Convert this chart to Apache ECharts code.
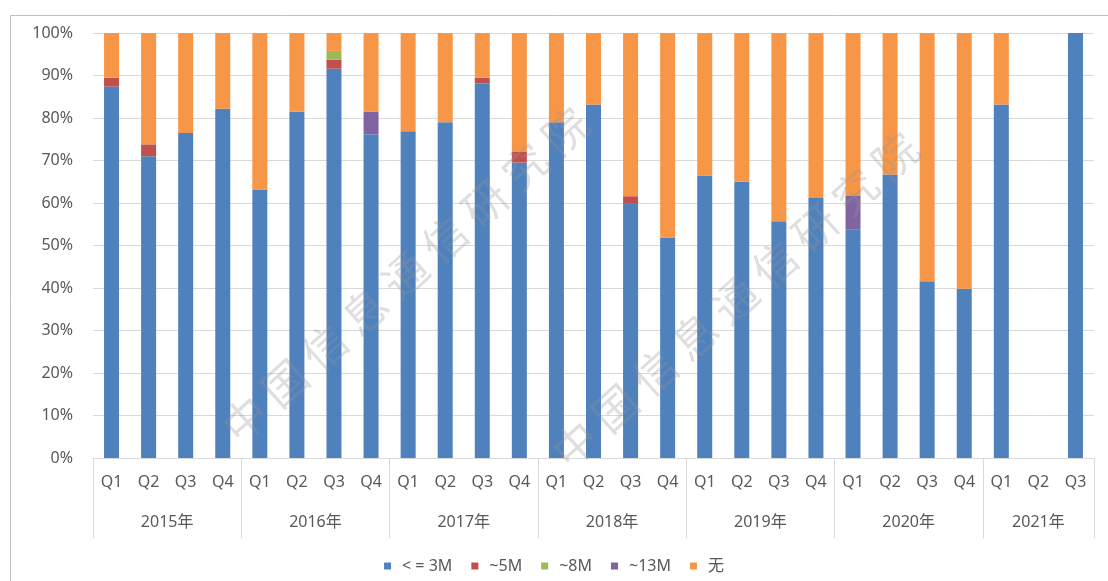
<!DOCTYPE html>
<html>
<head>
<meta charset="utf-8">
<script src="https://cdn.jsdelivr.net/npm/echarts@6/dist/echarts.min.js"></script>
<style>
  html, body { margin: 0; padding: 0; background: #fff; }
  #chart { width: 1108px; height: 581px; }
</style>
</head>
<body>
<div id="chart"></div>
<script>
// quarters along the axis, years underneath with how many quarters each has
const quarters = ['Q1','Q2','Q3','Q4','Q1','Q2','Q3','Q4','Q1','Q2','Q3','Q4','Q1','Q2','Q3','Q4',
  'Q1','Q2','Q3','Q4','Q1','Q2','Q3','Q4','Q1','Q2','Q3'];
const years = ['2015年','2016年','2017年','2018年','2019年','2020年','2021年'];
const yearQuarters = [4, 4, 4, 4, 4, 4, 3];

// share of each class (%)
const le3M = [87.4, 71.0, 76.5, 82.2, 63.2, 81.5, 91.6, 76.2, 76.9, 79.0, 88.2, 69.5, 79.0, 83.2, 59.8, 51.9,
  66.5, 65.0, 55.7, 61.2, 53.8, 66.7, 41.6, 39.8, 83.2, 0, 100];
const m5 = [2.1, 2.8, 0, 0, 0, 0, 2.1, 0, 0, 0, 1.3, 2.5, 0, 0, 1.8, 0,
  0, 0, 0, 0, 0, 0, 0, 0, 0, 0, 0];
const m8 = [0, 0, 0, 0, 0, 0, 2.1, 0, 0, 0, 0, 0, 0, 0, 0, 0,
  0, 0, 0, 0, 0, 0, 0, 0, 0, 0, 0];
const m13 = [0, 0, 0, 0, 0, 0, 0, 5.3, 0, 0, 0, 0, 0, 0, 0, 0,
  0, 0, 0, 0, 8.0, 0, 0, 0, 0, 0, 0];
const none = [10.5, 26.2, 23.5, 17.8, 36.8, 18.5, 4.2, 18.5, 23.1, 21.0, 10.5, 28.0, 21.0, 16.8, 38.4, 48.1,
  33.5, 35.0, 44.3, 38.8, 38.2, 33.3, 58.4, 60.2, 16.8, 0, 0];

const names = ['< = 3M', '~5M', '~8M', '~13M', '无'];
const colors = ['#4F81BD', '#C0504D', '#9BBB59', '#8064A2', '#F79646'];

// year axis built on half-quarter points so labels can sit between bars
const yearPoints = new Array(quarters.length * 2 + 1).fill('');
const boundaries = new Set([0]);
let start = 0;
yearQuarters.forEach((n, i) => {
  yearPoints[start * 2 + n] = years[i];
  start += n;
  boundaries.add(start * 2);
});

const font = "'Noto Sans', 'Noto Sans CJK SC', sans-serif";
const cjk = "'Noto Sans CJK SC', sans-serif";
const chart = echarts.init(document.getElementById('chart'));

const option = {
  animation: false,
  color: colors,
  textStyle: { fontFamily: font },
  graphic: [
    { type: 'rect', left: 8, top: 13, shape: { width: 1200, height: 700 },
      style: { fill: 'none', stroke: '#bfbfbf', lineWidth: 1 }, silent: true },
    { type: 'text', x: 405, y: 275, rotation: 42 * Math.PI / 180, z: 100, silent: true,
      style: { text: '中 国 信 息 通 信 研 究 院', font: '44px ' + cjk, fill: 'rgba(150,150,150,0.3)',
        align: 'center', verticalAlign: 'middle' } },
    { type: 'text', x: 735, y: 300, rotation: 42 * Math.PI / 180, z: 100, silent: true,
      style: { text: '中 国 信 息 通 信 研 究 院', font: '44px ' + cjk, fill: 'rgba(150,150,150,0.3)',
        align: 'center', verticalAlign: 'middle' } }
  ],
  legend: {
    bottom: 2,
    left: 'center',
    icon: 'rect',
    itemWidth: 7,
    itemHeight: 7,
    itemGap: 19,
    textStyle: { fontSize: 16, color: '#595959', fontFamily: font, padding: [0, 0, 0, 6] },
    data: names
  },
  grid: { left: 93, right: 14, top: 33, bottom: 123 },
  xAxis: [
    {
      type: 'category',
      data: quarters,
      axisLine: { lineStyle: { color: '#d9d9d9' } },
      axisTick: { show: false },
      axisLabel: { interval: 0, margin: 16, fontSize: 16, color: '#595959', fontFamily: font }
    },
    {
      type: 'category',
      position: 'bottom',
      data: yearPoints,
      boundaryGap: false,
      axisLine: { show: false },
      axisTick: {
        show: true,
        length: 80,
        interval: (idx) => boundaries.has(idx),
        lineStyle: { color: '#d9d9d9' }
      },
      axisLabel: { interval: 0, margin: 56, fontSize: 16, color: '#595959', fontFamily: font }
    }
  ],
  yAxis: {
    type: 'value',
    min: 0,
    max: 100,
    interval: 10,
    axisLine: { show: false },
    axisTick: { show: false },
    axisLabel: { formatter: '{value}%', margin: 20, fontSize: 16, color: '#595959', fontFamily: font },
    splitLine: { lineStyle: { color: '#d9d9d9' } }
  },
  series: [le3M, m5, m8, m13, none].map((d, i) => ({
    name: names[i],
    type: 'bar',
    stack: 'total',
    barWidth: 15,
    data: d
  }))
};

chart.setOption(option);
</script>
</body>
</html>
